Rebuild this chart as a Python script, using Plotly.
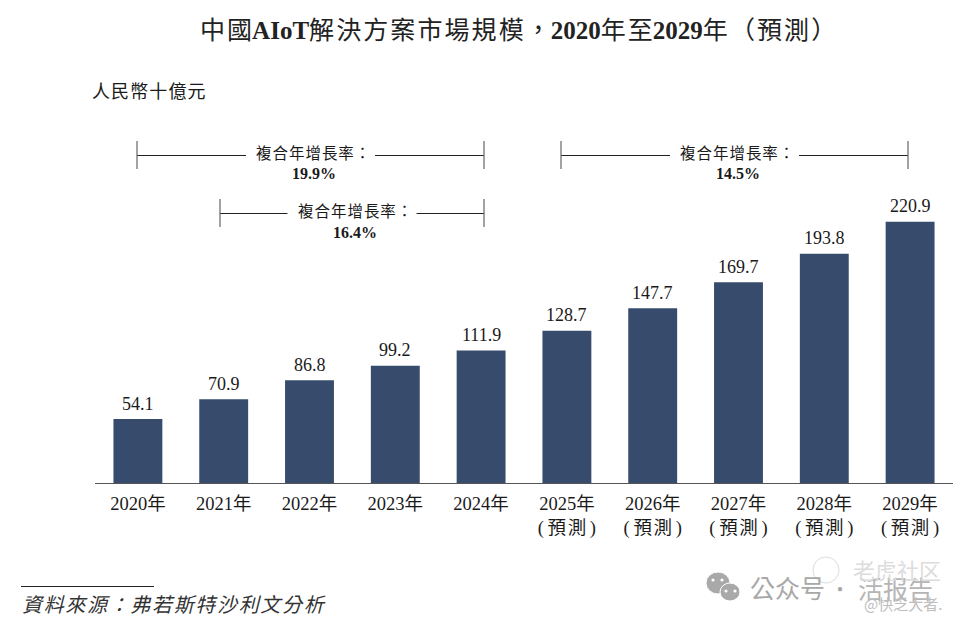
import plotly.graph_objects as go

PAREN_L, PAREN_R = "(", ")"
FW_L, FW_R, FW_COMMA, FW_COLON = "\uff08", "\uff09", "\uff0c", "\uff1a"
THIN = "\u2009"
HAIR = "\u200a"

year_names = ["2020年", "2021年", "2022年", "2023年", "2024年", "2025年", "2026年", "2027年", "2028年", "2029年"]
forecast_flags = [False, False, False, False, False, True, True, True, True, True]
forecast_label = "預測"
values = [54.1, 70.9, 86.8, 99.2, 111.9, 128.7, 147.7, 169.7, 193.8, 220.9]
value_labels = ["54.1", "70.9", "86.8", "99.2", "111.9", "128.7", "147.7", "169.7", "193.8", "220.9"]
title_parts = [("中國", False), ("AIoT", True), ("解決方案市場規模" + FW_COMMA, False), ("2020", True),
               ("年至", False), ("2029", True), ("年" + FW_L + "預測" + FW_R, False)]
unit_text = "人民幣十億元"
source_text = "資料來源" + FW_COLON + "弗若斯特沙利文分析"
cagr_caption = "複合年增長率" + FW_COLON
cagr_spans = [(137, 484, 155, "19.9%"), (220, 484, 213, "16.4%"), (561, 908, 155, "14.5%")]

SERIF = "Liberation Serif, Noto Sans CJK TC"
CJK = "Noto Sans CJK TC, Liberation Sans"
INK = "#1a1a1a"

# page has an 8px body margin, so figure and plot area are offset accordingly
PLOT_L, PLOT_W, BASE, PLOT_H = 95, 858, 483, 475
PX_PER_UNIT = 1.183

def px(x):
    return (x - PLOT_L) / PLOT_W

def py(y):
    return (BASE - y) / PLOT_H

def spaced(s, gap=THIN):
    return gap.join(s)

tick_text = [
    f"{y}<br>{PAREN_L}{THIN}{spaced(forecast_label, HAIR)}{THIN}{PAREN_R}" if f else y
    for y, f in zip(year_names, forecast_flags)
]

fig = go.Figure(go.Bar(
    x=tick_text, y=values, width=0.57, marker=dict(color="#374c6d", line=dict(width=0)),
    hoverinfo="skip",
))

shapes = []
annotations = []

for cat, v, lab in zip(tick_text, values, value_labels):
    annotations.append(dict(xref="x", yref="y", x=cat, y=v, text=lab, showarrow=False, yanchor="middle",
                            yshift=15.5, font=dict(family=SERIF, size=18, color=INK)))

def txt(x, y, text, size, family=SERIF, color=INK, anchor="center", **kw):
    annotations.append(dict(xref="paper", yref="paper", x=px(x), y=py(y), text=text, showarrow=False,
                            xanchor=anchor, yanchor="middle", font=dict(family=family, size=size, color=color), **kw))

def line(x0, y0, x1, y1, color="#222222", width=1):
    shapes.append(dict(type="line", xref="paper", yref="paper", x0=px(x0), x1=px(x1), y0=py(y0), y1=py(y1),
                       line=dict(color=color, width=width)))

def disc(cx, cy, rx, ry, fill, edge="white", w=1):
    shapes.append(dict(type="circle", xref="paper", yref="paper", x0=px(cx - rx), x1=px(cx + rx),
                       y0=py(cy + ry), y1=py(cy - ry), fillcolor=fill, line=dict(color=edge, width=w)))

for x0, x1, y, pct in cagr_spans:
    mid = (x0 + x1) / 2
    half = 64.5
    line(x0, y + 0.5, mid - half, y + 0.5)
    line(mid + half, y + 0.5, x1, y + 0.5)
    line(x0, y - 14, x0, y + 14, color="#666666", width=1.2)
    line(x1, y - 14, x1, y + 14, color="#666666", width=1.2)
    txt(mid + 2.5, y - 3, spaced(cagr_caption, HAIR), 15.5, family=CJK)
    txt(mid + 3, y + 19, f"<b>{pct}</b>", 16)

title_text = "".join(f"<b>{s}</b>" if bold else spaced(s, HAIR) for s, bold in title_parts)
txt(517.5, 31, title_text, 25, family=SERIF, color="#222222")
txt(90, 90, spaced(unit_text, HAIR), 18, family=CJK, anchor="left")
line(21, 586.5, 154, 586.5, color="#222222", width=1)
txt(20, 605, f"<i>{spaced(source_text, HAIR)}</i>", 20, family=SERIF, color="#333333", anchor="left")

# watermark
disc(826, 570, 13, 13, "rgba(255,255,255,0)", edge="#dddddd", w=1)
disc(718, 583, 12, 11, "#a9a9a9")
disc(730, 592, 10, 9, "#a9a9a9")
for cx, cy in [(713, 580), (722, 580), (726, 591), (735, 591)]:
    disc(cx, cy, 1.6, 1.6, "white", edge="white", w=0)
txt(787, 587, "公众号", 25, family=CJK, color="#a8a8a8")
txt(840, 588, "·", 20, family=CJK, color="#a8a8a8")
txt(895, 588, "活报告", 25, family=CJK, color="#b5b5b5")
txt(897, 569, "老虎社区", 22, family=CJK, color="#dcdcdc")
txt(903, 603, "@快乏大者.", 15, family=CJK, color="#bdbdbd")

fig.update_layout(
    width=957, height=617, autosize=False, paper_bgcolor="white", plot_bgcolor="white",
    margin=dict(l=87, r=12, t=0, b=142), showlegend=False,
    shapes=shapes, annotations=annotations,
    xaxis=dict(type="category", showline=True, linecolor="#555555", linewidth=1, ticks="", showgrid=False,
               ticklabelstandoff=4, tickfont=dict(family=SERIF, size=18.5, color=INK)),
    yaxis=dict(visible=False, range=[0, PLOT_H / PX_PER_UNIT], showgrid=False, zeroline=False),
)
fig.write_html("out.html")
